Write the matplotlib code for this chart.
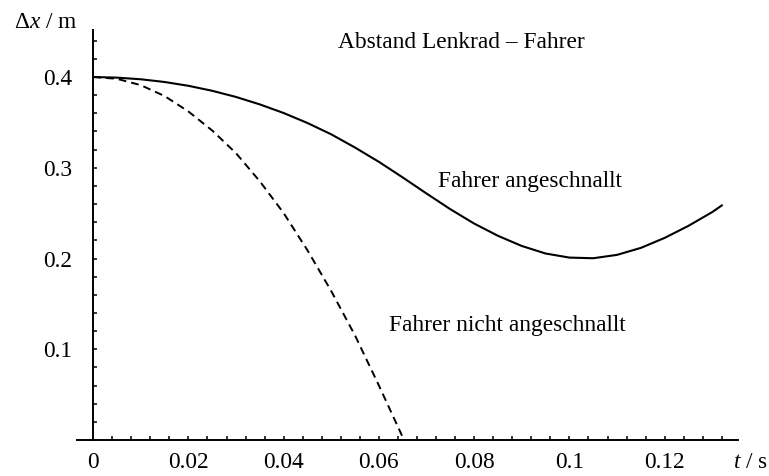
import matplotlib
matplotlib.use("Agg")
import matplotlib.pyplot as plt
from matplotlib.ticker import MultipleLocator, FixedLocator

# Data
t_belted = [0.0, 0.005, 0.010, 0.015, 0.020, 0.025, 0.030, 0.035, 0.040, 0.045,
            0.050, 0.055, 0.060, 0.065, 0.070, 0.075, 0.080, 0.085, 0.090, 0.095,
            0.100, 0.105, 0.110, 0.115, 0.120, 0.125, 0.130, 0.132]
x_belted = [0.4000, 0.3993, 0.3975, 0.3945, 0.3903, 0.3848, 0.3780, 0.3698, 0.3603, 0.3493,
            0.3368, 0.3222, 0.3065, 0.2893, 0.2716, 0.2543, 0.2385, 0.2250, 0.2138, 0.2055,
            0.2010, 0.2003, 0.2040, 0.2117, 0.2227, 0.2360, 0.2512, 0.2585]

t_unbelted = [0.0, 0.005, 0.010, 0.015, 0.020, 0.025, 0.030, 0.035, 0.040, 0.045,
              0.050, 0.055, 0.060, 0.065, 0.0652]
x_unbelted = [0.400, 0.398, 0.391, 0.379, 0.362, 0.341, 0.316, 0.285, 0.250, 0.209,
              0.164, 0.115, 0.060, 0.003, 0.0]

x_ticks = [0, 0.02, 0.04, 0.06, 0.08, 0.1, 0.12]
x_ticklabels = ["0", "0.02", "0.04", "0.06", "0.08", "0.1", "0.12"]
y_ticks = [0.1, 0.2, 0.3, 0.4]
y_ticklabels = ["0.1", "0.2", "0.3", "0.4"]

plt.rcParams['font.family'] = ['Liberation Serif', 'DejaVu Serif']
plt.rcParams['mathtext.fontset'] = 'custom'
plt.rcParams['mathtext.it'] = 'Liberation Serif:italic'
plt.rcParams['mathtext.rm'] = 'Liberation Serif'

FS = 16.8

fig = plt.figure(figsize=(7.69, 4.76), dpi=100)
ax = fig.add_axes([77/769, (476-440)/476, 661/769, 410/476])

ax.plot(t_belted, x_belted, color='black', lw=1.5, solid_joinstyle='round')
ax.plot(t_unbelted, x_unbelted, color='black', lw=1.4, dashes=(4, 2.6))

ax.set_xlim(-0.0034, 0.1354)
ax.set_ylim(0, 0.4518)

for s in ['top', 'right']:
    ax.spines[s].set_visible(False)
ax.spines['left'].set_position(('data', 0))
ax.spines['bottom'].set_position(('data', 0))
ax.spines['left'].set_linewidth(1.4)
ax.spines['bottom'].set_linewidth(1.4)

ax.xaxis.set_major_locator(FixedLocator(x_ticks))
ax.set_xticklabels(x_ticklabels, fontsize=FS)
ax.xaxis.set_minor_locator(MultipleLocator(0.004))
ax.yaxis.set_major_locator(FixedLocator(y_ticks))
ax.set_yticklabels(y_ticklabels, fontsize=FS)
ax.yaxis.set_minor_locator(MultipleLocator(0.02))

ax.tick_params(axis='x', which='both', direction='in', length=3.2, width=1.1, pad=9)
ax.tick_params(axis='y', which='both', direction='in', length=3.2, width=1.1, pad=15)
ax.xaxis.get_major_ticks()[0].tick1line.set_visible(False)

fig.text(750/769, 1 - 462/476, r"$t$ / s", fontsize=FS, ha='center', va='center')
fig.text(46/769, 1 - 22/476, r"$\Delta x$ / m", fontsize=FS, ha='center', va='center')

fig.text(461/769, 1 - 43/476, "Abstand Lenkrad \u2013 Fahrer", fontsize=FS, ha='center', va='center')
fig.text(530/769, 1 - 181/476, "Fahrer angeschnallt", fontsize=FS, ha='center', va='center')
fig.text(507/769, 1 - 326/476, "Fahrer nicht angeschnallt", fontsize=FS, ha='center', va='center')

fig.savefig("out.png", dpi=100)
